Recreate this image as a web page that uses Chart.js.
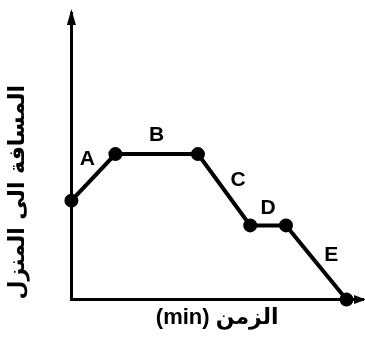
<!DOCTYPE html>
<html>
<head>
<meta charset="utf-8">
<script src="https://cdn.jsdelivr.net/npm/chart.js@4"></script>
<style>
  html, body { margin: 0; padding: 0; background: #fff; }
  #wrap { width: 365px; height: 342px; }
</style>
</head>
<body>
<div id="wrap"><canvas id="motionChart"></canvas></div>
<script>
// Time (min) and distance to home (arbitrary units)
const times = [0, 8, 23, 32.5, 39, 50];
const distances = [6.8, 10, 10, 5.1, 5.1, 0];
// Segment names between consecutive points
const segmentNames = ['A', 'B', 'C', 'D', 'E'];
const xTitle = '(min) الزمن';
const yTitle = 'المسافة الى المنزل';

// label offsets from the middle of each segment, in pixels
const labelOffsets = [[-6, -18], [0, -19], [14, -10], [0, -17], [15, -7]];

const points = times.map((t, i) => ({ x: t, y: distances[i] }));

// draws the arrow heads on the axes and the letters on the segments
const sketchPlugin = {
    id: 'sketch',
    afterDraw(chart) {
        const c = chart.ctx;
        const area = chart.chartArea;
        c.save();
        c.fillStyle = '#000';
        // y axis arrow
        c.beginPath();
        c.moveTo(area.left, area.top - 4);
        c.lineTo(area.left - 4.5, area.top + 12);
        c.lineTo(area.left + 4.5, area.top + 12);
        c.closePath();
        c.fill();
        // x axis arrow
        c.beginPath();
        c.moveTo(area.right + 3, area.bottom);
        c.lineTo(area.right - 9, area.bottom - 4.5);
        c.lineTo(area.right - 9, area.bottom + 4.5);
        c.closePath();
        c.fill();

        // segment letters
        const meta = chart.getDatasetMeta(0);
        c.font = 'bold 21px "Liberation Sans", Arial, sans-serif';
        c.textAlign = 'center';
        c.textBaseline = 'middle';
        segmentNames.forEach((name, i) => {
            const p0 = meta.data[i];
            const p1 = meta.data[i + 1];
            const mx = (p0.x + p1.x) / 2 + labelOffsets[i][0];
            const my = (p0.y + p1.y) / 2 + labelOffsets[i][1];
            c.fillText(name, mx, my);
        });
        c.restore();
    }
};

const ctx = document.getElementById('motionChart').getContext('2d');
const motionChart = new Chart(ctx, {
    type: 'scatter',
    data: {
        datasets: [{
            data: points,
            showLine: true,
            borderColor: '#000',
            borderWidth: 4,
            backgroundColor: '#000',
            pointRadius: 5,
            pointHoverRadius: 5,
            clip: false
        }]
    },
    options: {
        responsive: true,
        maintainAspectRatio: false,
        animation: false,
        events: [],
        layout: {
            autoPadding: false,
            padding: { left: 5, right: 2, top: 13, bottom: 7 }
        },
        plugins: {
            legend: { display: false },
            tooltip: { enabled: false }
        },
        scales: {
            x: {
                type: 'linear',
                min: 0,
                max: 53,
                grid: { display: false, drawTicks: false },
                ticks: { display: false },
                border: { display: true, color: '#000', width: 3 },
                title: {
                    display: true,
                    text: xTitle,
                    color: '#000',
                    font: { family: '"Liberation Sans", "DejaVu Sans", sans-serif', size: 22, weight: 'bold' },
                    padding: { top: 5, bottom: 4 }
                }
            },
            y: {
                type: 'linear',
                min: 0,
                max: 19.7,
                grid: { display: false, drawTicks: false },
                ticks: { display: false },
                border: { display: true, color: '#000', width: 3 },
                title: {
                    display: true,
                    text: yTitle,
                    align: 'start',
                    color: '#000',
                    font: { family: '"DejaVu Sans", sans-serif', size: 22, weight: 'bold' },
                    padding: { top: 0, bottom: 40 }
                }
            }
        }
    },
    plugins: [sketchPlugin]
});
</script>
</body>
</html>
